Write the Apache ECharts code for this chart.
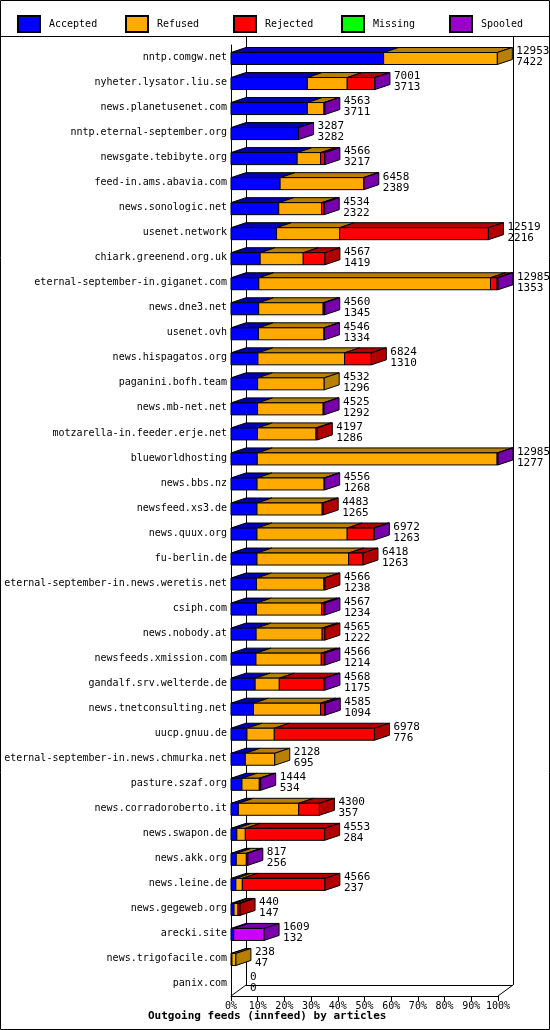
<!DOCTYPE html>
<html><head><meta charset="utf-8">
<script src="https://cdn.jsdelivr.net/npm/echarts@6/dist/echarts.min.js"></script>
<style>html,body{margin:0;padding:0;background:#fff}#c{width:550px;height:1030px}</style>
</head><body><div id="c"></div>
<script>
const categories=["nntp.comgw.net","nyheter.lysator.liu.se","news.planetusenet.com","nntp.eternal-september.org","newsgate.tebibyte.org","feed-in.ams.abavia.com","news.sonologic.net","usenet.network","chiark.greenend.org.uk","eternal-september-in.giganet.com","news.dne3.net","usenet.ovh","news.hispagatos.org","paganini.bofh.team","news.mb-net.net","motzarella-in.feeder.erje.net","blueworldhosting","news.bbs.nz","newsfeed.xs3.de","news.quux.org","fu-berlin.de","eternal-september-in.news.weretis.net","csiph.com","news.nobody.at","newsfeeds.xmission.com","gandalf.srv.welterde.de","news.tnetconsulting.net","uucp.gnuu.de","eternal-september-in.news.chmurka.net","pasture.szaf.org","news.corradoroberto.it","news.swapon.de","news.akk.org","news.leine.de","news.gegeweb.org","arecki.site","news.trigofacile.com","panix.com"];
const offered=[12953,7001,4563,3287,4566,6458,4534,12519,4567,12985,4560,4546,6824,4532,4525,4197,12985,4556,4483,6972,6418,4566,4567,4565,4566,4568,4585,6978,2128,1444,4300,4553,817,4566,440,1609,238,0];
const accepted=[7422,3713,3711,3282,3217,2389,2322,2216,1419,1353,1345,1334,1310,1296,1292,1286,1277,1268,1265,1263,1263,1238,1234,1222,1214,1175,1094,776,695,534,357,284,256,237,147,132,47,0];
const refused=[5531,1939,809,0,1141,4059,2084,3066,2094,11267,3137,3186,4215,3236,3190,2850,11665,3260,3169,4389,4457,3282,3172,3211,3176,1174,3264,1329,1433,843,2935,413,489,314,194,0,191,0];
const rejected=[0,1331,0,0,194,0,97,7237,1054,322,50,0,1299,0,0,61,0,0,49,1283,698,46,97,132,146,2160,194,4873,0,0,1008,3856,0,4015,99,0,0,0];
const missing=[0,0,0,0,0,0,0,0,0,0,0,0,0,0,0,0,0,0,0,0,0,0,0,0,0,0,0,0,0,0,0,0,0,0,0,0,0,0];
const spooled=[0,18,43,5,14,10,31,0,0,43,28,26,0,0,43,0,43,28,0,37,0,0,64,0,30,59,33,0,0,67,0,0,72,0,0,1477,0,0];
const maxVal=12985;
const xTicks=["0%","10%","20%","30%","40%","50%","60%","70%","80%","90%","100%"];
const names=["Accepted","Refused","Rejected","Missing","Spooled"];
const front=["#0000ff","#ffaa00","#ff0000","#00ff00","#cc00ff"];
const dark=["#0000b0","#b88000","#b00000","#00b000","#7700aa"];
const legendCol=["#0000ff","#ffaa00","#ff0000","#00ff00","#9900cc"];
const data=categories.map((c,i)=>[i,accepted[i],refused[i],rejected[i],missing[i],spooled[i],offered[i]]);
const F='"DejaVu Sans Mono",monospace';
const DX=15,DY=5,H=12;
function renderItem(params,api){
  const row=api.value(0);const vals=[api.value(1),api.value(2),api.value(3),api.value(4),api.value(5)];
  const kids=[];let cum=0;let last=-1;
  vals.forEach((v,k)=>{if(v>0)last=k;});
  const base=api.coord([0,row]);const yc=base[1]+1;
  vals.forEach((v,k)=>{
    if(v<=0)return;
    const x0=api.coord([cum,row])[0];cum+=v;const x1=api.coord([cum,row])[0];
    const yt=yc-H/2,yb=yc+H/2;
    kids.push({type:'polygon',shape:{points:[[x0,yt],[x1,yt],[x1+DX,yt-DY],[x0+DX,yt-DY]]},style:{fill:dark[k],stroke:'#000',lineWidth:1}});
    kids.push({type:'rect',shape:{x:x0,y:yt,width:x1-x0,height:H},style:{fill:front[k],stroke:'#000',lineWidth:1}});
    if(k===last){kids.push({type:'polygon',shape:{points:[[x1,yt],[x1+DX,yt-DY],[x1+DX,yb-DY],[x1,yb]]},style:{fill:dark[k],stroke:'#000',lineWidth:1}});}
  });
  const xe=api.coord([cum,row])[0]+DX+4;
  kids.push({type:'text',style:{text:String(api.value(6)),x:xe,y:yc-7,fill:'#000',font:'11px '+F,verticalAlign:'middle'}});
  kids.push({type:'text',style:{text:String(api.value(1)),x:xe,y:yc+4,fill:'#000',font:'11px '+F,verticalAlign:'middle'}});
  return {type:'group',children:kids};
}
const chart=echarts.init(document.getElementById('c'),null,{renderer:'canvas'});
const dummy=names.map((n,k)=>({name:n,type:'bar',data:[],itemStyle:{color:legendCol[k],borderColor:'#000',borderWidth:1}}));
const legends=names.map((n,k)=>({top:10,left:12+108*k,itemGap:0,itemWidth:22,itemHeight:16,icon:'rect',textStyle:{fontSize:10,fontFamily:F,color:'#000',padding:[0,0,0,4]},data:[n],selectedMode:false}));
chart.setOption({
  animation:false,
  backgroundColor:'#fff',
  textStyle:{fontFamily:F},
  legend:legends,
  grid:{left:231,right:52,top:45,bottom:34,containLabel:false,outerBoundsMode:'none'},
  xAxis:{type:'value',min:0,max:maxVal,interval:maxVal/10,axisLine:{show:true,lineStyle:{color:'#000'}},axisTick:{show:true,lineStyle:{color:'#000'}},splitLine:{show:false},
    axisLabel:{color:'#000',fontSize:10,fontFamily:F,margin:5,formatter:(v)=>xTicks[Math.round(v/maxVal*10)]||''}},
  yAxis:{type:'category',inverse:true,data:categories,axisLine:{show:true,lineStyle:{color:'#000'}},axisTick:{show:false},
    axisLabel:{color:'#000',fontSize:10,fontFamily:F,margin:4}},
  series:dummy.concat([{type:'custom',renderItem:renderItem,data:data,encode:{x:[1],y:0},clip:false,z:5}]),
  graphic:[
    {type:'rect',shape:{x:0.5,y:0.5,width:549,height:1029},style:{fill:null,stroke:'#000',lineWidth:1},silent:true},
    {type:'line',shape:{x1:0,y1:36.5,x2:550,y2:36.5},style:{stroke:'#000',lineWidth:1}},
    {type:'line',shape:{x1:513.5,y1:37,x2:513.5,y2:985},style:{stroke:'#000',lineWidth:1}},
    {type:'line',shape:{x1:246.5,y1:37,x2:246.5,y2:985},style:{stroke:'#000',lineWidth:1}},
    {type:'line',shape:{x1:246,y1:985.5,x2:513,y2:985.5},style:{stroke:'#000',lineWidth:1}},
    {type:'line',shape:{x1:513,y1:985,x2:498,y2:996},style:{stroke:'#000',lineWidth:1}},
    {type:'line',shape:{x1:246,y1:985,x2:231,y2:996},style:{stroke:'#000',lineWidth:1}},
    {type:'text',left:148,top:1011,style:{text:'Outgoing feeds (innfeed) by articles',font:'bold 11px '+F,fill:'#000'}}
  ]
});
</script></body></html>
